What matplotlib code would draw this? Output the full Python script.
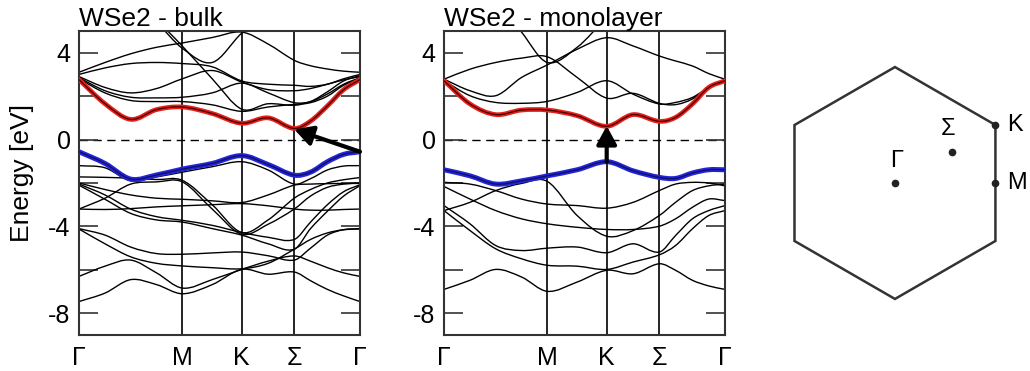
import numpy as np
import matplotlib
matplotlib.use("Agg")
import matplotlib.pyplot as plt
from matplotlib.path import Path
from matplotlib.patches import PathPatch, Polygon

plt.rcParams['font.family'] = ['Liberation Sans', 'DejaVu Sans']

# k-path sample points (fraction of path length) and high-symmetry points
kpts = [0, 0.0925, 0.184, 0.276, 0.368, 0.474, 0.579, 0.673, 0.766, 0.824, 0.884, 0.942, 1.0]
sym_pos = [0, 0.368, 0.579, 0.766, 1.0]
sym_labels = ['Γ', 'M', 'K', 'Σ', 'Γ']

# bulk WSe2, energies in eV at kpts
bulk_cb = [2.76, 1.65, 0.93, 1.38, 1.50, 1.20, 0.75, 1.00, 0.51, 0.85, 1.55, 2.30, 2.76]
bulk_vb = [-0.56, -1.10, -1.82, -1.63, -1.36, -1.10, -0.74, -1.15, -1.64, -1.50, -1.02, -0.68, -0.56]
bulk_bands = [
    [3.10, 3.55, 3.95, 4.25, 4.45, 4.70, 4.95, 4.40, 3.65, 3.40, 3.25, 3.15, 3.10],
    [8.0, 7.2, 6.4, 5.4, 4.2, 3.55, 4.90, 5.8, 6.5, 7.0, 7.5, 8.0, 8.0],
    [8.5, 7.5, 6.5, 5.5, 4.3, 2.80, 1.40, 1.65, 1.58, 1.75, 2.20, 2.70, 2.95],
    [3.00, 3.30, 3.50, 3.55, 3.50, 3.35, 2.70, 2.55, 2.50, 2.45, 2.55, 2.80, 3.00],
    [2.90, 2.40, 2.15, 2.35, 2.80, 3.18, 2.65, 2.30, 2.25, 2.35, 2.55, 2.75, 2.90],
    [2.85, 2.25, 1.95, 1.92, 1.95, 2.15, 2.60, 2.15, 1.70, 1.75, 2.10, 2.55, 2.85],
    [2.80, 2.15, 1.80, 1.75, 1.75, 1.60, 1.30, 1.50, 1.62, 1.70, 2.00, 2.50, 2.80],
    [-1.20, -1.30, -1.90, -1.72, -1.50, -1.25, -1.02, -1.40, -2.05, -1.80, -1.40, -1.22, -1.20],
    [-1.72, -1.74, -1.78, -1.84, -1.88, -3.00, -4.28, -3.70, -2.70, -2.30, -2.00, -1.85, -1.75],
    [-3.20, -2.70, -2.05, -1.95, -1.95, -3.20, -4.36, -3.90, -3.20, -2.60, -2.20, -2.05, -2.00],
    [-2.00, -2.30, -2.55, -2.70, -2.75, -2.82, -2.90, -2.55, -2.10, -2.05, -2.03, -2.02, -2.02],
    [-2.05, -2.55, -3.20, -3.55, -3.72, -3.95, -4.28, -4.50, -4.60, -3.80, -3.00, -2.40, -2.08],
    [-2.10, -2.75, -3.40, -3.70, -3.80, -4.10, -4.40, -4.80, -5.05, -4.10, -3.30, -2.60, -2.12],
    [-3.20, -3.22, -3.18, -3.10, -3.05, -3.00, -2.95, -3.05, -3.20, -3.25, -3.25, -3.22, -3.20],
    [-4.10, -4.40, -4.95, -5.25, -5.28, -5.22, -5.18, -5.35, -5.55, -5.00, -4.40, -4.15, -4.10],
    [-4.12, -4.80, -5.40, -5.70, -5.82, -5.90, -5.95, -5.70, -5.05, -4.60, -4.30, -4.15, -4.12],
    [-6.30, -5.83, -5.55, -6.14, -6.84, -6.45, -5.98, -5.60, -5.36, -5.60, -5.90, -6.14, -6.30],
    [-7.46, -7.07, -6.45, -6.68, -7.10, -6.68, -5.98, -6.20, -6.10, -6.50, -6.90, -7.20, -7.46],
]

# monolayer WSe2
mono_cb = [2.71, 1.64, 1.15, 1.36, 1.36, 1.10, 0.61, 1.15, 0.84, 1.02, 1.64, 2.40, 2.71]
mono_vb = [-1.39, -1.67, -2.05, -1.90, -1.67, -1.39, -1.02, -1.44, -1.74, -1.79, -1.54, -1.39, -1.39]
mono_bands = [
    [2.78, 3.24, 3.55, 3.75, 3.81, 2.86, 1.91, 2.13, 1.67, 1.61, 1.87, 2.40, 2.75],
    [2.78, 2.25, 2.02, 2.86, 3.44, 4.16, 4.69, 4.31, 3.85, 3.62, 3.39, 3.04, 2.78],
    [2.71, 2.02, 1.71, 1.67, 1.76, 2.17, 2.71, 2.09, 1.64, 1.71, 1.94, 2.40, 2.71],
    [9.0, 8.0, 6.5, 4.95, 3.55, 4.25, 5.6, 6.5, 7.0, 7.5, 8.0, 8.5, 9.0],
    [-1.97, -2.05, -2.35, -2.74, -2.97, -3.04, -3.16, -2.89, -2.35, -2.05, -1.97, -2.00, -2.13],
    [-3.27, -2.89, -2.35, -2.02, -1.93, -3.50, -4.45, -4.19, -3.50, -2.89, -2.35, -2.13, -2.05],
    [-2.16, -2.74, -3.27, -3.65, -3.88, -4.04, -4.14, -4.14, -3.99, -3.65, -3.12, -2.74, -2.81],
    [-3.04, -3.88, -4.88, -5.11, -5.00, -4.95, -5.21, -4.80, -5.18, -4.42, -3.65, -3.27, -3.04],
    [-3.27, -4.19, -5.03, -5.49, -5.79, -5.83, -5.98, -5.64, -5.31, -4.88, -4.11, -3.50, -3.27],
    [-6.90, -6.48, -5.98, -6.33, -6.99, -6.56, -6.02, -6.18, -5.72, -6.02, -6.48, -6.74, -6.90],
]

# Brillouin zone points
bz_names = ['Γ', 'Σ', 'K', 'M']
bz_x = [0.0, 0.49, 0.866, 0.866]
bz_y = [0.0, 0.27, 0.5, 0.0]


def band_path(x, y):
    # cubic hermite curve through the read values (drawn by matplotlib as bezier)
    x = np.asarray(x, float)
    y = np.asarray(y, float)
    n = len(x)
    m = np.zeros(n)
    m[0] = (y[1] - y[0]) / (x[1] - x[0])
    m[-1] = (y[-1] - y[-2]) / (x[-1] - x[-2])
    m[1:-1] = (y[2:] - y[:-2]) / (x[2:] - x[:-2])
    verts = [(x[0], y[0])]
    codes = [Path.MOVETO]
    for i in range(n - 1):
        h = x[i + 1] - x[i]
        verts += [(x[i] + h / 3, y[i] + m[i] * h / 3),
                  (x[i + 1] - h / 3, y[i + 1] - m[i + 1] * h / 3),
                  (x[i + 1], y[i + 1])]
        codes += [Path.CURVE4] * 3
    return Path(verts, codes)


def draw_band(ax, y, color, lw, z):
    ax.add_patch(PathPatch(band_path(kpts, y), fill=False, edgecolor=color,
                           lw=lw, zorder=z, capstyle='round', joinstyle='round'))


def setup(ax, title):
    ax.set_xlim(0, 1)
    ax.set_ylim(-9, 5)
    ax.set_yticks([-8, -4, 0, 4])
    ax.set_yticklabels(['-8', '-4', '0', '4'])
    ax.set_yticks([-6, -2, 2], minor=True)
    ax.tick_params(axis='y', which='both', direction='in', length=14, width=1.2,
                   left=True, right=True, labelsize=18, pad=6, color='#333333')
    ax.set_xticks(sym_pos)
    ax.set_xticklabels(sym_labels)
    ax.tick_params(axis='x', length=0, labelsize=18, pad=8)
    for s in ax.spines.values():
        s.set_linewidth(1.5)
        s.set_color('#333333')
    for p in sym_pos[1:-1]:
        ax.axvline(p, color='black', lw=1.2, zorder=1)
    ax.axhline(0, color='black', lw=1.0, ls=(0, (6, 4)), zorder=1)
    ax.set_title(title, loc='left', fontsize=19, pad=3)


fig = plt.figure(figsize=(10.3, 3.71), dpi=100)
ax1 = fig.add_axes([79 / 1030, 36 / 371, 281 / 1030, 304 / 371])
ax2 = fig.add_axes([444 / 1030, 36 / 371, 281 / 1030, 304 / 371])

for ax, bands, cb, vb, title in [(ax1, bulk_bands, bulk_cb, bulk_vb, 'WSe2 - bulk'),
                                 (ax2, mono_bands, mono_cb, mono_vb, 'WSe2 - monolayer')]:
    setup(ax, title)
    for b in bands:
        draw_band(ax, b, 'black', 1.0, 2)
    draw_band(ax, cb, '#e8201c', 3.4, 3)
    draw_band(ax, cb, '#500000', 1.0, 4)
    draw_band(ax, vb, '#2424d8', 3.6, 3)
    draw_band(ax, vb, '#10106a', 1.0, 4)

arrow = dict(arrowstyle='-|>,head_length=0.55,head_width=0.3', lw=3, color='black',
             shrinkA=0, shrinkB=0, mutation_scale=20)
ax1.annotate('', xy=(sym_pos[3], bulk_cb[8] - 0.04), xytext=(sym_pos[4], bulk_vb[-1]),
             arrowprops=arrow, zorder=6)
ax2.annotate('', xy=(sym_pos[2], mono_cb[6] + 0.02), xytext=(sym_pos[2], mono_vb[6]),
             arrowprops=arrow, zorder=6)

fig.text(22 / 1030, 0.535, 'Energy [eV]', rotation=90, fontsize=19,
         ha='center', va='center')

# hexagonal Brillouin zone
ax3 = fig.add_axes([775 / 1030, 55 / 371, 255 / 1030, 266 / 371])
ax3.set_xlim(-1.034, 1.164)
ax3.set_ylim(-1.147, 1.147)
ax3.axis('off')
ang = np.deg2rad(np.arange(90, 450, 60))
ax3.add_patch(Polygon(np.column_stack([np.cos(ang), np.sin(ang)]), closed=True,
                      fill=False, edgecolor='#333333', lw=1.8))
ax3.plot(bz_x, bz_y, 'o', color='#222222', ms=4.5)
ax3.text(0.015, 0.095, 'Γ', fontsize=17, ha='center', va='bottom')
ax3.text(0.457, 0.37, 'Σ', fontsize=17, ha='center', va='bottom')
ax3.text(0.97, 0.5, 'K', fontsize=17, ha='left', va='center')
ax3.text(0.97, 0.0, 'M', fontsize=17, ha='left', va='center')

fig.savefig('out.png', dpi=100)
